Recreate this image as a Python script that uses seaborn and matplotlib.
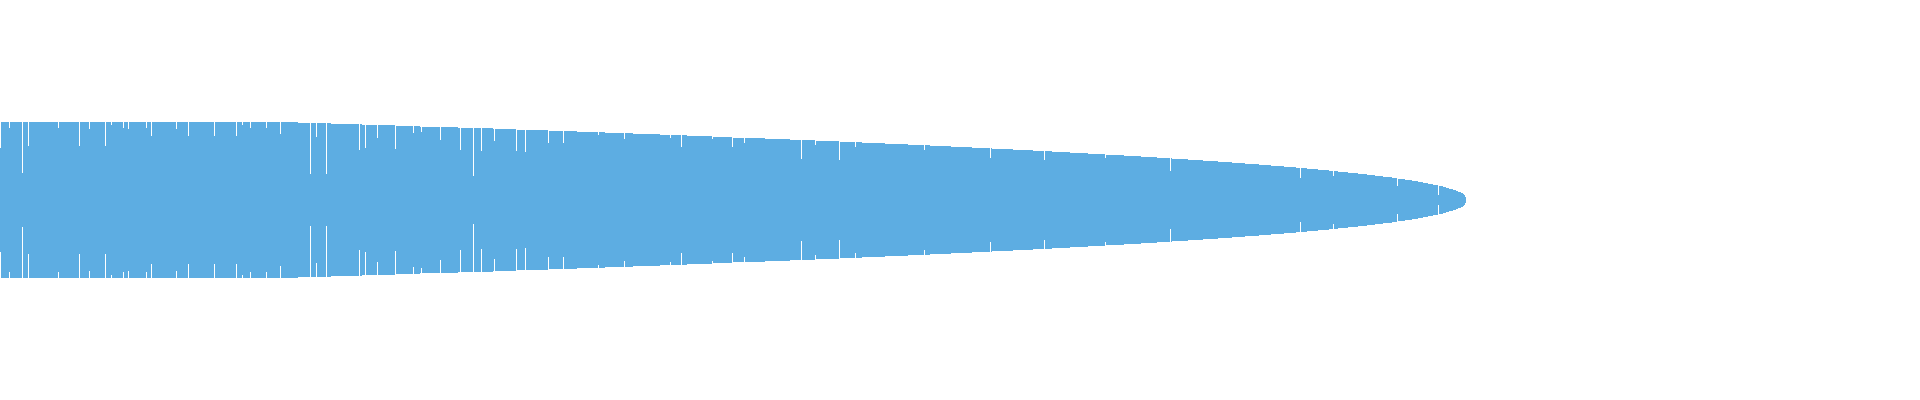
import numpy as np
import pandas as pd
import seaborn as sb
import matplotlib
matplotlib.use('Agg')
import matplotlib.pyplot as plt

# values: sorted items, each drawn as a mirrored bar
# levels = value, counts = how many consecutive items sit at that value
levels = [78, 77, 76, 75, 74, 73, 72, 71, 70, 69, 68, 67, 66, 65, 64, 63,
          62, 61, 60, 59, 58, 57, 56, 55, 54, 53, 52, 51, 50, 49, 48, 47,
          46, 45, 44, 43, 42, 41, 40, 39, 38, 37, 36, 35, 34, 33, 32, 31,
          30, 29, 28, 27, 26, 25, 24, 23, 22, 21, 20, 19, 18, 17, 16, 15,
          14, 13, 12, 11, 10, 9, 8, 7, 6, 5, 3]
counts = [298, 33, 31, 33, 25, 38, 35, 24, 31, 29, 28, 28, 27, 27, 25, 21,
          32, 25, 25, 25, 22, 23, 23, 22, 21, 21, 20, 21, 20, 19, 18, 18,
          17, 19, 17, 16, 15, 16, 15, 15, 14, 13, 14, 12, 13, 12, 11, 11,
          11, 9, 10, 10, 9, 8, 8, 9, 6, 7, 7, 6, 5, 5, 5, 5,
          5, 3, 3, 4, 3, 2, 3, 2, 1, 1, 1]

# single items that fall below their neighbours (the thin white lines)
dip_rank = [0, 9, 22, 28, 58, 79, 89, 105, 111, 123, 128, 146, 151, 176,
            188, 214, 236, 242, 250, 266, 280, 310, 316, 326, 359, 365, 377,
            395, 413, 421, 440, 460, 473, 481, 494, 516, 525, 548, 563, 598,
            624, 670, 681, 712, 732, 744, 801, 815, 839, 855, 924, 990, 1044,
            1105, 1170, 1300, 1333, 1397, 1438]
dip_value = [52, 72, 27, 54, 72, 54, 71, 54, 75, 72, 71, 72, 64, 71,
             64, 64, 64, 75, 72, 72, 66, 26, 63, 26, 50, 52, 62,
             51, 67, 68, 60, 50, 24, 49, 59, 49, 48, 57, 57, 65,
             61, 62, 53, 61, 53, 57, 41, 55, 40, 53, 50, 42, 40,
             42, 29, 22, 24, 14, 5]

values = np.repeat(levels, counts).astype(float)
values[dip_rank] = dip_value

df = pd.DataFrame({'rank': np.arange(len(values)), 'value': values})
df['lower'] = -df['value']

fig = plt.figure(figsize=(19.2, 4), dpi=100)
ax = fig.add_axes([0, 0, 1, 1])

bar_kw = dict(color='#5DADE2', saturation=1, width=1, errorbar=None,
              linewidth=0, antialiased=False, ax=ax)
sb.barplot(data=df, x='rank', y='value', **bar_kw)
sb.barplot(data=df, x='rank', y='lower', **bar_kw)

ax.set_xlim(-0.5, 1919.5)
ax.set_ylim(-200, 200)
ax.axis('off')

fig.savefig('out.png', dpi=100, facecolor='white')
